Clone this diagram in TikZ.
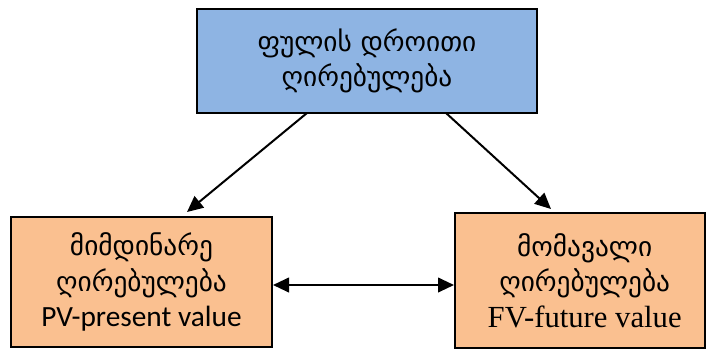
\documentclass[tikz,border=0pt]{standalone}
\usepackage{fontspec}
\usetikzlibrary{arrows.meta,calc}
\newfontfamily\geo{DejaVu Sans}
\newfontfamily\latsans{Carlito}
\newfontfamily\latserif{Liberation Serif}
\definecolor{topblue}{HTML}{8EB4E3}
\definecolor{peach}{HTML}{FAC090}
\begin{document}
\begin{tikzpicture}[x=0.75pt,y=-0.75pt,
  box/.style={draw=black,line width=1.5pt,inner sep=0pt,align=center,
    font=\geo\fontsize{20.5}{26.5}\selectfont},
  link/.style={line width=1.5pt,-{Triangle[length=12pt,width=11pt]}},
  both/.style={line width=1.5pt,{Triangle[length=12pt,width=11pt]}-{Triangle[length=12pt,width=11pt]}}]
\useasboundingbox (0,0) rectangle (707,351);
% top box: time value of money
\node[box,fill=topblue,minimum width=340*0.75pt,minimum height=104*0.75pt]
  (top) at (367,61) {ფულის დროითი\\ღირებულება};
% present value
\node[box,fill=peach,minimum width=261*0.75pt,minimum height=130*0.75pt]
  (pv) at (141.5,282) {მიმდინარე\\ღირებულება\\{\latsans\fontsize{22}{26}\selectfont PV-present value}};
% future value
\node[box,fill=peach,minimum width=250*0.75pt,minimum height=135*0.75pt]
  (fv) at (580,280.5) {\hspace*{7pt}მომავალი\\\hspace*{7pt}ღირებულება\\\hspace*{7pt}{\latserif\fontsize{23}{26}\selectfont FV-future value}};
% arrow end points
\coordinate (a1) at (307,113);
\coordinate (a2) at (446,113);
\coordinate (b1) at (187,212);
\coordinate (b2) at (551,209);
\draw[link] (a1) -- (b1);
\draw[link] (a2) -- (b2);
\draw[both] (pv.east |- 0,285) -- (fv.west |- 0,285);
\end{tikzpicture}
\end{document}
